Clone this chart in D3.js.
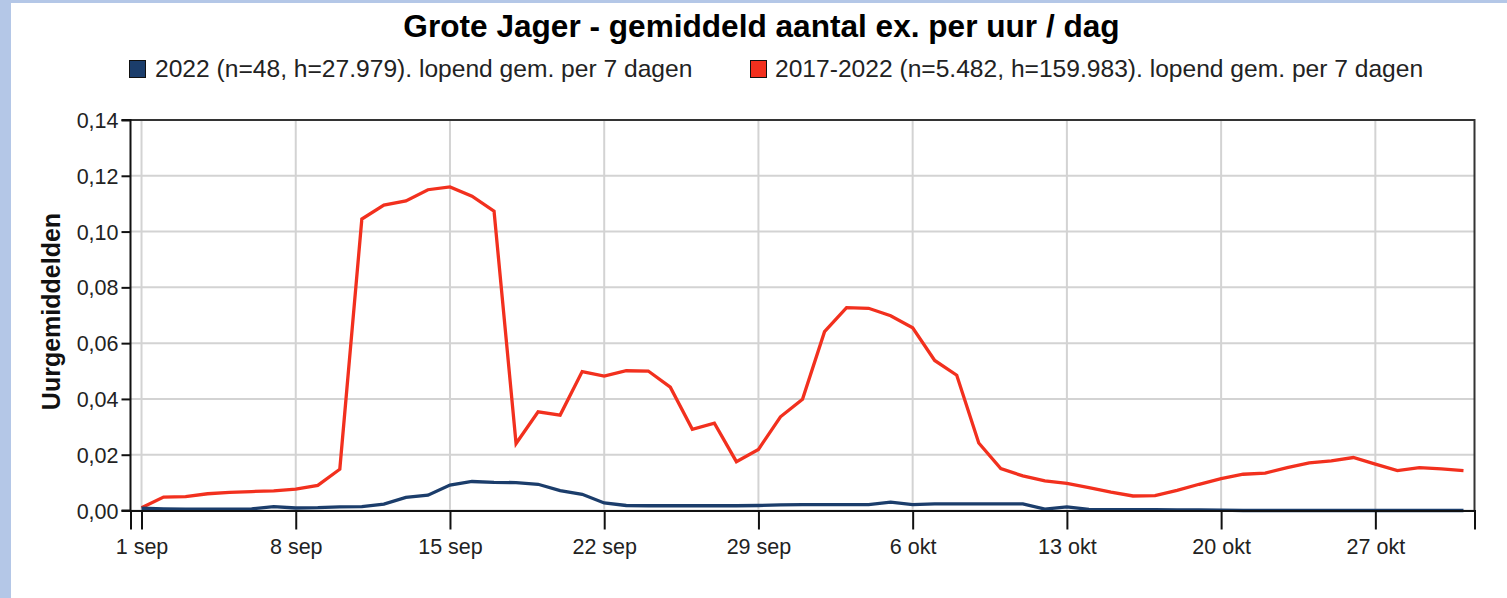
<!DOCTYPE html>
<html><head><meta charset="utf-8">
<script src="https://cdn.jsdelivr.net/npm/d3@7"></script>
<style>
html,body{margin:0;padding:0;background:#fff;}
svg{display:block;font-family:"Liberation Sans",Arial,sans-serif;}
</style></head>
<body>
<svg id="c" width="1507" height="598"></svg>
<script>
const title = "Grote Jager - gemiddeld aantal ex. per uur / dag";
const yLabel = "Uurgemiddelden";
const seriesNames = ["2022 (n=48, h=27.979). lopend gem. per 7 dagen",
                     "2017-2022 (n=5.482, h=159.983). lopend gem. per 7 dagen"];
const seriesColors = ["#1b3d6b", "#f2301e"];
// day index 0 = 1 sep ... 60 = 31 okt
const days = d3.range(0, 61);
const values2022 = [0.0008,0.0006,0.0005,0.0005,0.0005,0.0006,0.0014,0.0009,0.0010,0.0013,
  0.0014,0.0023,0.0047,0.0055,0.0091,0.0104,0.0101,0.0100,0.0094,0.0071,
  0.0058,0.0027,0.0018,0.0017,0.0017,0.0017,0.0017,0.0017,0.0018,0.0020,
  0.0021,0.0021,0.0021,0.0021,0.0030,0.0021,0.0024,0.0024,0.0024,0.0024,
  0.0024,0.0005,0.0013,0.0004,0.0003,0.0003,0.0003,0.0002,0.0002,0.0001,
  0,0,0,0,0,0,0,0,0,0,0];
const values2017_2022 = [0.0010,0.0048,0.0050,0.0060,0.0065,0.0068,0.0070,0.0077,0.0090,0.0148,
  0.1045,0.1095,0.1110,0.1150,0.1160,0.1127,0.1073,0.0240,0.0354,0.0342,
  0.0498,0.0482,0.0501,0.0500,0.0442,0.0291,0.0313,0.0175,0.0219,0.0336,
  0.0399,0.0641,0.0727,0.0725,0.0698,0.0655,0.0538,0.0485,0.0242,0.0150,
  0.0124,0.0106,0.0097,0.0082,0.0066,0.0052,0.0053,0.0072,0.0094,0.0114,
  0.0130,0.0134,0.0154,0.0171,0.0178,0.0190,0.0166,0.0143,0.0154,0.0149,0.0143];
const xTickDays = [0,7,14,21,28,35,42,49,56];
const xTickLabels = ["1 sep","8 sep","15 sep","22 sep","29 sep","6 okt","13 okt","20 okt","27 okt"];
const yTicks = [0,0.02,0.04,0.06,0.08,0.10,0.12,0.14];

const svg = d3.select("#c");
const W = 1507, H = 598;
// page frame
svg.append("rect").attr("x",0).attr("y",0).attr("width",W).attr("height",H).attr("fill","#fff");
svg.append("rect").attr("x",0).attr("y",0).attr("width",11).attr("height",H).attr("fill","#b4c7e7");
svg.append("rect").attr("x",0).attr("y",0).attr("width",W).attr("height",3).attr("fill","#b4c7e7");

const L = 130.5, R = 1474.5, T = 120, B = 510.5;
const x = d3.scaleLinear().domain([-0.5, 60.5]).range([L, R]);
const y = d3.scaleLinear().domain([0, 0.14]).range([B, T]);
const fmt = v => d3.format(".2f")(v).replace(".", ",");

// gridlines
const g = svg.append("g");
g.selectAll("line.gy").data(yTicks).join("line")
  .attr("x1",L).attr("x2",R).attr("y1",d=>y(d)).attr("y2",d=>y(d))
  .attr("stroke","#d3d3d3").attr("stroke-width",2);
g.selectAll("line.gx").data(xTickDays).join("line")
  .attr("x1",d=>x(d)).attr("x2",d=>x(d)).attr("y1",T).attr("y2",B)
  .attr("stroke","#d3d3d3").attr("stroke-width",2);

// frame top/right
svg.append("path").attr("d",`M${L},${T}H${R}V${B}`).attr("fill","none")
  .attr("stroke","#333").attr("stroke-width",2);

// lines
const line = d3.line().x((d,i)=>x(days[i])).y(d=>y(d));
[values2017_2022, values2022].forEach((vals, k) => {
  svg.append("path").datum(vals).attr("d", line).attr("fill","none")
    .attr("stroke", k===0 ? seriesColors[1] : seriesColors[0])
    .attr("stroke-width",3.3).attr("stroke-linejoin","miter");
});

// axes
const yAxis = svg.append("g").attr("transform",`translate(${L},0)`)
  .call(d3.axisLeft(y).tickValues(yTicks).tickFormat(fmt).tickSize(9).tickPadding(3));
const xAxis = svg.append("g").attr("transform",`translate(0,${B})`)
  .call(d3.axisBottom(x).tickValues(xTickDays).tickFormat((d,i)=>xTickLabels[i]).tickSize(19).tickPadding(9));
[yAxis, xAxis].forEach(a => {
  a.select(".domain").attr("stroke","#111").attr("stroke-width",2);
  a.selectAll(".tick line").attr("stroke","#111").attr("stroke-width",2);
  a.selectAll(".tick text").attr("fill","#222").style("font-size","21.5px")
    .style("font-family","'Liberation Sans',Arial,sans-serif");
});
yAxis.select(".domain").attr("d",`M-9,${B}H0V${T}H-9`);
yAxis.selectAll(".tick text").attr("dy","0.35em");

// title
svg.append("text").attr("x",761.5).attr("y",37).attr("text-anchor","middle")
  .style("font-size","31.6px").style("font-weight","bold").attr("fill","#000").text(title);

// legend
const legend = [{x:129, tx:155, name:seriesNames[0], color:seriesColors[0]},
                {x:750, tx:775, name:seriesNames[1], color:seriesColors[1]}];
legend.forEach(l => {
  svg.append("rect").attr("x",l.x+0.5).attr("y",60.5).attr("width",16).attr("height",17)
    .attr("fill",l.color).attr("stroke","#111").attr("stroke-width",1);
  svg.append("text").attr("x",l.tx).attr("y",77).style("font-size","24.6px")
    .attr("fill","#222").text(l.name);
});

// y label
svg.append("text").attr("transform",`translate(60,311.5) rotate(-90)`).attr("text-anchor","middle")
  .style("font-size","25px").style("font-weight","bold").attr("fill","#111").text(yLabel);
</script>
</body></html>
